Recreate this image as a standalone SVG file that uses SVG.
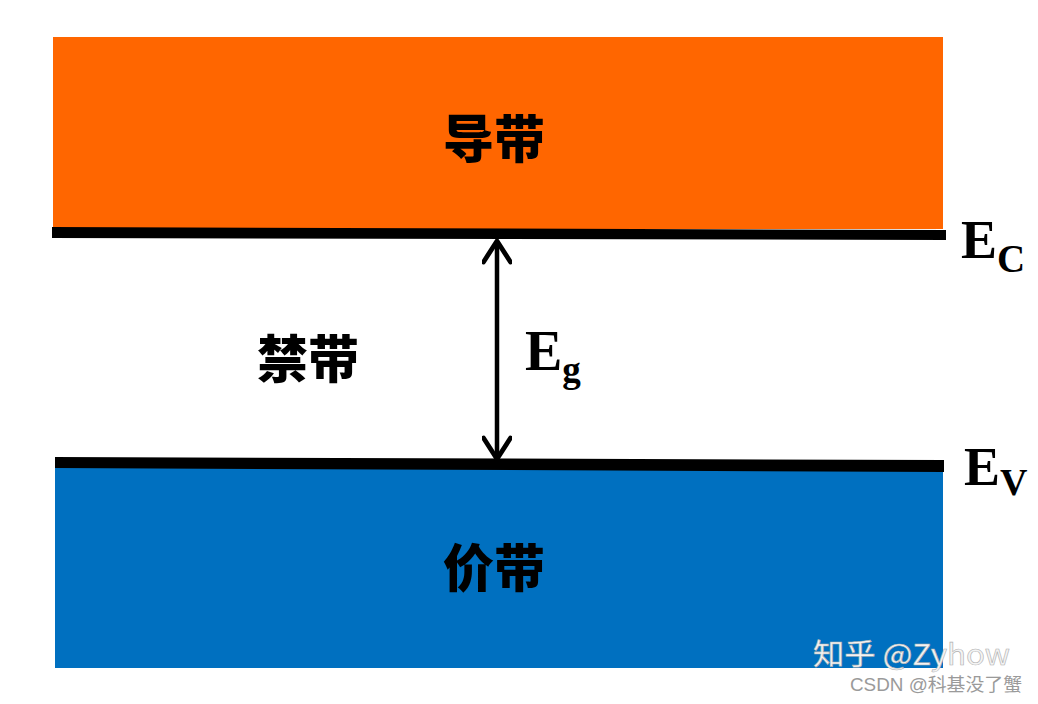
<svg xmlns="http://www.w3.org/2000/svg" width="1038" height="704" viewBox="0 0 1038 704">
<style>
.cn{font-family:"Noto Sans CJK SC","Noto Sans",sans-serif;font-weight:900;font-size:51px;fill:#000;text-anchor:middle}
.sym{font-family:"Liberation Serif",serif;font-weight:bold;fill:#000}
.lvl{fill:#000}
</style>
<defs>
<marker id="head" viewBox="0 0 20 20" refX="18" refY="10" markerWidth="30" markerHeight="30" markerUnits="userSpaceOnUse" orient="auto-start-reverse">
<path d="M4,1 L18,10 L4,19" fill="none" stroke="#000" stroke-width="3.2" stroke-linecap="round" stroke-linejoin="round"/>
</marker>
</defs>
<rect width="1038" height="704" fill="#fff"/>
<g id="conduction-band">
<rect x="53" y="37" width="890" height="192" fill="#FF6600"/>
<text class="cn" x="494" y="158">导带</text>
</g>
<g id="valence-band">
<rect x="55" y="466" width="888" height="202" fill="#0070C0"/>
<text class="cn" x="494" y="587">价带</text>
</g>
<g id="band-gap">
<text class="cn" x="308" y="378">禁带</text>
</g>
<g id="ec-level">
<polygon class="lvl" points="52,227 946,230 946,240 52,238"/>
<text class="sym" x="961" y="258" font-size="54">E<tspan font-size="39" dy="14">C</tspan></text>
</g>
<g id="ev-level">
<polygon class="lvl" points="55,457 944,460 944,472 55,468"/>
<text class="sym" x="964" y="485" font-size="54">E<tspan font-size="38" dy="10">V</tspan></text>
</g>
<g id="connectors">
<line x1="497" y1="241" x2="497" y2="459" stroke="#000" stroke-width="4.5" marker-start="url(#head)" marker-end="url(#head)"/>
</g>
<g id="eg-label">
<text class="sym" x="525" y="370" font-size="56">E<tspan font-size="37" dy="12">g</tspan></text>
</g>
<g id="watermark">
<text x="813" y="665" font-family="'Noto Sans CJK SC',sans-serif" font-size="29" fill="#f4f4f4" stroke="#b0b0b0" stroke-width="0.6" textLength="197" lengthAdjust="spacingAndGlyphs">知乎 @Zyhow</text>
<text x="850" y="691" font-family="'Liberation Sans','Noto Sans CJK SC',sans-serif" font-size="18" fill="#9a9a9a" textLength="172" lengthAdjust="spacingAndGlyphs">CSDN @科基没了蟹</text>
</g>
</svg>
